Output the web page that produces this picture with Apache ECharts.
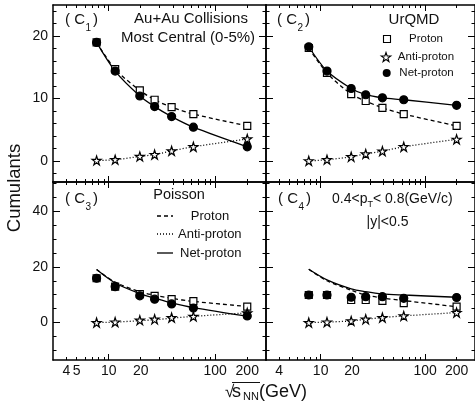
<!DOCTYPE html>
<html><head><meta charset="utf-8">
<script src="https://cdn.jsdelivr.net/npm/echarts@6/dist/echarts.min.js"></script>
<style>html,body{margin:0;padding:0;background:#fff}#c{width:475px;height:407px}</style>
</head><body><div id="c"></div><script>
const energies = [7.7, 11.5, 19.6, 27, 39, 62.4, 200];
// C1 (data)
const c1Proton = [19.0, 14.7, 11.3, 9.8, 8.6, 7.5, 5.6];
const c1AntiProton = [0.05, 0.17, 0.7, 1.0, 1.6, 2.25, 3.5];
const c1NetProton = [19.0, 14.4, 10.4, 8.7, 7.1, 5.4, 2.25];
// C2 (UrQMD)
const c2Proton = [18.1, 14.1, 10.7, 9.6, 8.5, 7.5, 5.6];
const c2AntiProton = [0.0, 0.17, 0.65, 1.1, 1.55, 2.25, 3.45];
const c2NetProton = [18.3, 14.4, 11.6, 10.6, 10.1, 9.8, 8.9];
// C3 (data + Poisson baselines)
const c3Proton = [15.9, 12.9, 10.2, 9.6, 8.4, 7.7, 5.7];
const c3AntiProton = [0.0, 0.2, 0.85, 1.2, 1.8, 2.2, 3.5];
const c3NetProton = [15.9, 12.9, 9.6, 8.4, 6.7, 5.2, 2.4];
const c3PoissonProton = [19.0, 14.5, 11.1, 9.8, 8.7, 7.6, 5.8];
const c3PoissonAnti = [0.05, 0.17, 0.7, 1.0, 1.6, 2.25, 3.5];
const c3PoissonNet = [19.0, 14.2, 10.4, 8.8, 7.1, 5.4, 2.3];
// C4 (data + baselines)
const c4Proton = [9.9, 9.9, 8.1, 8.1, 7.8, 7.0, 5.7];
const c4AntiProton = [0.0, 0.2, 0.6, 1.2, 1.8, 2.4, 3.6];
const c4NetProton = [9.9, 9.9, 9.1, 9.3, 9.3, 8.7, 9.0];
const c4PoissonProton = [19.1, 15.0, 11.6, 9.9, 8.8, 7.9, 5.7];
const c4PoissonAnti = [0.0, 0.2, 0.6, 1.2, 1.8, 2.4, 3.6];
const c4PoissonNet = [19.1, 15.3, 12.1, 11.1, 10.3, 9.9, 9.1];

const xMajorTicks = [10, 100];
const xMinorTicks = [4, 5, 6, 7, 8, 9, 20, 30, 40, 50, 60, 70, 80, 90, 200];
const xLabelsLeft = [4, 5, 10, 20, 100, 200];
const xLabelsRight = [4, 10, 20, 100, 200];
const yTopMajor = [0, 10, 20];
const yTopMinor = [-2, 2, 4, 6, 8, 12, 14, 16, 18, 22, 24];
const yBottomMajor = [0, 20, 40];
const yBottomMinor = [-10, -5, 5, 10, 15, 25, 30, 35, 45, 50];

const FONT = 'Liberation Sans, Arial, sans-serif';
const grids = [
  {left: 53, top: 5, width: 213, height: 177},
  {left: 266, top: 5, width: 211, height: 177},
  {left: 53, top: 182, width: 213, height: 178},
  {left: 266, top: 182, width: 211, height: 178}
];
const yRange = [[-3.4, 25], [-3.4, 25], [-13.4, 50.4], [-13.4, 50.4]];
const xLabelSets = [null, null, xLabelsLeft, xLabelsRight];

const xAxes = [], yAxes = [];
grids.forEach((g, gi) => {
  ['bottom', 'top'].forEach(pos => {
    [true, false].forEach(major => {
      const lab = (pos === 'bottom' && major && xLabelSets[gi]) ? xLabelSets[gi] : null;
      xAxes.push({
        type: 'log', logBase: 10, gridIndex: gi, min: 3, max: 300, position: pos,
        splitLine: {show: false},
        axisLine: {show: major, onZero: false, lineStyle: {color: '#000', width: 1.5}},
        axisTick: {show: true, inside: true, length: major ? 6 : 3, customValues: major ? xMajorTicks : xMinorTicks, lineStyle: {color: '#000', width: 1}},
        axisLabel: lab ? {show: true, customValues: lab, margin: 4, fontSize: 14, fontFamily: FONT, color: '#111'} : {show: false}
      });
    });
  });
  ['left', 'right'].forEach(pos => {
    [true, false].forEach(major => {
      const top = gi < 2;
      const lab = (pos === 'left' && major && (gi === 0 || gi === 2));
      yAxes.push({
        type: 'value', gridIndex: gi, min: yRange[gi][0], max: yRange[gi][1], position: pos,
        splitLine: {show: false},
        axisLine: {show: major, onZero: false, lineStyle: {color: '#000', width: 1.5}},
        axisTick: {show: true, inside: true, length: major ? 7 : 3.5,
          customValues: major ? (top ? yTopMajor : yBottomMajor) : (top ? yTopMinor : yBottomMinor),
          lineStyle: {color: '#000', width: 1}},
        axisLabel: lab ? {show: true, customValues: top ? yTopMajor : yBottomMajor, margin: 5, fontSize: 14, fontFamily: FONT, color: '#111'} : {show: false}
      });
    });
  });
});

const STAR = 'path://M50,2 L61.2,36.6 L97.6,36.6 L68.2,58 L79.4,92.6 L50,71.2 L20.6,92.6 L31.8,58 L2.4,36.6 L38.8,36.6 Z';
const MARK = {
  proton: {symbol: 'rect', size: 7, color: '#fff'},
  anti: {symbol: STAR, size: 9, color: '#fff'},
  net: {symbol: 'circle', size: 8, color: '#000'}
};
const LT = {proton: [4, 3], anti: [1, 2], net: 'solid'};
function pts(vals) { return energies.map((e, i) => [e, vals[i]]); }
function lineMark(gi, vals, kind) {
  const m = MARK[kind];
  return {type: 'line', xAxisIndex: gi * 4, yAxisIndex: gi * 4, data: pts(vals), smooth: 0.3,
    symbol: m.symbol, symbolSize: m.size, showSymbol: true, z: 3,
    itemStyle: {color: m.color, borderColor: '#000', borderWidth: 1.2},
    lineStyle: {color: '#000', width: 1.3, type: LT[kind]}, animation: false};
}
function lineOnly(gi, vals, kind) {
  return {type: 'line', xAxisIndex: gi * 4, yAxisIndex: gi * 4, data: pts(vals), smooth: 0.3,
    showSymbol: false, symbol: 'none', z: 2,
    lineStyle: {color: '#000', width: 1.3, type: LT[kind]}, animation: false};
}
function markOnly(gi, vals, kind) {
  const m = MARK[kind];
  return {type: 'scatter', xAxisIndex: gi * 4, yAxisIndex: gi * 4, data: pts(vals),
    symbol: m.symbol, symbolSize: m.size, z: 4,
    itemStyle: {color: m.color, borderColor: '#000', borderWidth: 1.2, opacity: 1}, animation: false};
}

const series = [
  lineMark(0, c1Proton, 'proton'), lineMark(0, c1AntiProton, 'anti'), lineMark(0, c1NetProton, 'net'),
  lineMark(1, c2Proton, 'proton'), lineMark(1, c2AntiProton, 'anti'), lineMark(1, c2NetProton, 'net'),
  lineOnly(2, c3PoissonProton, 'proton'), lineOnly(2, c3PoissonAnti, 'anti'), lineOnly(2, c3PoissonNet, 'net'),
  markOnly(2, c3Proton, 'proton'), markOnly(2, c3AntiProton, 'anti'), markOnly(2, c3NetProton, 'net'),
  lineOnly(3, c4PoissonProton, 'proton'), lineOnly(3, c4PoissonAnti, 'anti'), lineOnly(3, c4PoissonNet, 'net'),
  markOnly(3, c4Proton, 'proton'), markOnly(3, c4AntiProton, 'anti'), markOnly(3, c4NetProton, 'net')
];

function txt(x, y, text, size, align, extra) {
  return Object.assign({type: 'text', x: x, y: y, z: 10,
    style: {text: text, font: size + 'px ' + FONT, fill: '#111', textAlign: align || 'left', textVerticalAlign: 'middle'}}, extra || {});
}
function panelTag(x, y, n) {
  return [txt(x, y, '( C', 15, 'left'), txt(x + 20.5, y + 8, n, 10, 'left'), txt(x + 28, y, ')', 15, 'left')];
}
function starPoints(cx, cy, r) {
  const p = [];
  for (let i = 0; i < 10; i++) {
    const rr = i % 2 === 0 ? r : r * 0.4;
    const a = -Math.PI / 2 + i * Math.PI / 5;
    p.push([cx + rr * Math.cos(a), cy + rr * Math.sin(a)]);
  }
  return p;
}
const graphic = [].concat(
  panelTag(65, 20, '1'), panelTag(277, 20, '2'), panelTag(65, 199, '3'), panelTag(278, 199, '4'),
  [
    txt(191, 19, 'Au+Au Collisions', 15, 'center'),
    txt(188, 38, 'Most Central (0-5%)', 15, 'center'),
    txt(414, 20, 'UrQMD', 15, 'center'),
    {type: 'rect', shape: {x: 383.5, y: 35.5, width: 7, height: 7}, style: {fill: '#fff', stroke: '#000', lineWidth: 1.1}, z: 10},
    txt(426, 39, 'Proton', 11.5, 'center'),
    {type: 'polygon', shape: {points: starPoints(386, 57.5, 5)}, style: {fill: '#fff', stroke: '#000', lineWidth: 1.1}, z: 10},
    txt(426, 57, 'Anti-proton', 11.5, 'center'),
    {type: 'circle', shape: {cx: 386.7, cy: 73, r: 4}, style: {fill: '#000'}, z: 10},
    txt(426.5, 73, 'Net-proton', 11.5, 'center'),
    txt(179, 195, 'Poisson', 14.5, 'center'),
    {type: 'line', shape: {x1: 157, y1: 216, x2: 173, y2: 216}, style: {stroke: '#000', lineWidth: 1.3, lineDash: [4, 3]}, z: 10},
    txt(210, 216, 'Proton', 13, 'center'),
    {type: 'line', shape: {x1: 157, y1: 234, x2: 173, y2: 234}, style: {stroke: '#000', lineWidth: 1.3, lineDash: [1, 2]}, z: 10},
    txt(178, 234, 'Anti-proton', 13, 'left'),
    {type: 'line', shape: {x1: 157, y1: 253, x2: 173, y2: 253}, style: {stroke: '#000', lineWidth: 1.3}, z: 10},
    txt(180, 253, 'Net-proton', 13, 'left'),
    {type: 'text', x: 332, y: 199, z: 10, style: {
      text: '{a|0.4<p}{s|T}{a|< 0.8(GeV/c)}', textVerticalAlign: 'middle', textAlign: 'left', fill: '#111',
      rich: {a: {fontSize: 14, fontFamily: FONT, fill: '#111'}, s: {fontSize: 9, fontFamily: FONT, fill: '#111', padding: [12, 0, 0, 0]}}}},
    txt(387.5, 222, '|y|<0.5', 14, 'center'),
    txt(15, 188, 'Cumulants', 18.5, 'center', {rotation: Math.PI / 2}),
    txt(225, 392, '√', 17, 'left'),
    txt(232, 392, 's', 18, 'left'),
    txt(243, 397, 'NN', 11, 'left'),
    txt(259, 392, '(GeV)', 18, 'left'),
    {type: 'line', shape: {x1: 232, y1: 382.5, x2: 260, y2: 382.5}, style: {stroke: '#111', lineWidth: 1}, z: 10}
  ]
);

const chart = echarts.init(document.getElementById('c'), null, {renderer: 'canvas'});
chart.setOption({
  animation: false,
  backgroundColor: '#fff',
  grid: grids.map(g => Object.assign({show: false, containLabel: false}, g)),
  xAxis: xAxes,
  yAxis: yAxes,
  series: series,
  graphic: graphic
});
</script></body></html>
